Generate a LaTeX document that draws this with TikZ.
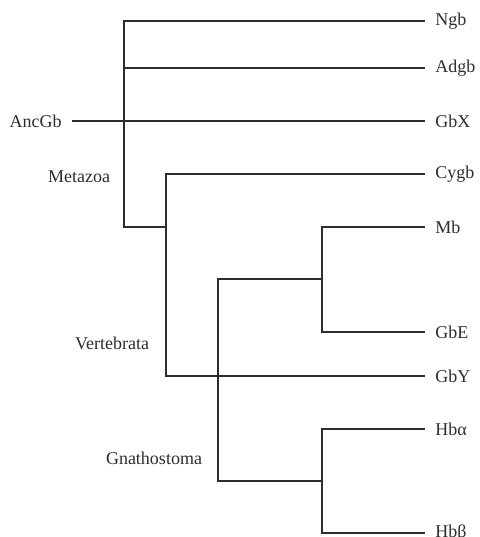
\documentclass[tikz,border=0pt]{standalone}
\usepackage{fontspec}
\setmainfont{Liberation Serif}
\usepackage{tikz}
\usetikzlibrary{positioning,calc}
\definecolor{ink}{RGB}{45,45,45}
\tikzset{
  br/.style={draw=ink,line width=1pt},
  leaf/.style={anchor=west,inner xsep=5pt,inner ysep=0pt,text=ink,font=\fontsize{9}{11}\selectfont},
  clade/.style={inner sep=0pt,text=ink,font=\fontsize{9}{11}\selectfont},
}

\begin{document}
\begin{tikzpicture}[x=0.5pt,y=-0.5pt]
\useasboundingbox (0,0) rectangle (479,537);
% leaves
\node[leaf] (Ngb)  at (425,21)  {Ngb};
\node[leaf] (Adgb) at (425,68)  {Adgb};
\node[leaf] (GbX)  at (425,121) {GbX};
\node[leaf] (Cygb) at (425,174) {Cygb};
\node[leaf] (Mb)   at (425,227) {Mb};
\node[leaf] (GbE)  at (425,332) {GbE};
\node[leaf] (GbY)  at (425,376) {GbY};
\node[leaf] (Hba)  at (425,429) {Hbα};
\node[leaf] (Hbb)  at (425,533) {Hbβ};
\node[leaf,anchor=east] (AncGb) at (72,121) {AncGb};
% clade names
\node[clade] (metaz) at (79,177) {Metazoa};
\node[clade] (verte) at (112,343) {Vertebrata};
\node[clade] (gnath) at (154,458) {Gnathostoma};
% inner nodes
\coordinate (meta) at (124,227);
\coordinate (vert) at (166,227);
\coordinate (gn)   at (218,376);
\coordinate (myo)  at (322,279);
\coordinate (hb)   at (322,481);
% branches
\draw[br] (Ngb.west) -| (meta) -- (vert);
\draw[br] (Adgb.west) -- (Adgb.west -| meta);
\draw[br] (AncGb.east) -- (GbX.west);
\draw[br] (Cygb.west) -| (vert) |- (GbY.west);
\draw[br] (myo) -| (gn) |- (hb);
\draw[br] (Mb.west) -| (myo) |- (GbE.west);
\draw[br] (Hba.west) -| (hb) |- (Hbb.west);
\end{tikzpicture}
\end{document}
